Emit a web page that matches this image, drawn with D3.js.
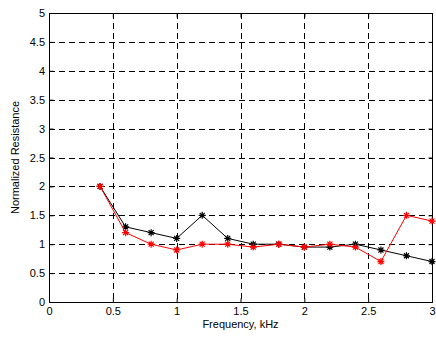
<!doctype html>
<html lang="en">
<head>
    <meta charset="UTF-8">
    <title>Normalized Resistance</title>
    <script src="https://d3js.org/d3.v7.min.js"></script>
    <style>
        body { margin: 0; background: white; }
        svg { display: block; }
        text { font-family: "Liberation Sans", Arial, sans-serif; font-size: 11px; fill: black; }
        .grid line { stroke: black; stroke-dasharray: 6 4; stroke-width: 1; }
    </style>
</head>
<body>
    <svg width="436" height="340"></svg>
    <script>
        const freq = [0.4, 0.6, 0.8, 1.0, 1.2, 1.4, 1.6, 1.8, 2.0, 2.2, 2.4, 2.6, 2.8, 3.0];
        const blackSeries = [2.0, 1.3, 1.2, 1.1, 1.5, 1.1, 1.0, 1.0, 0.95, 0.95, 1.0, 0.9, 0.8, 0.7];
        const redSeries = [2.0, 1.2, 1.0, 0.9, 1.0, 1.0, 0.95, 1.0, 0.95, 1.0, 0.95, 0.7, 1.5, 1.4];
        const xTicks = [0, 0.5, 1, 1.5, 2, 2.5, 3];
        const yTicks = [0, 0.5, 1, 1.5, 2, 2.5, 3, 3.5, 4, 4.5, 5];

        const svg = d3.select('svg');
        const plotL = 49, plotR = 432, plotT = 13, plotB = 302;

        const x = d3.scaleLinear().domain([0, 3]).range([plotL, plotR]);
        const y = d3.scaleLinear().domain([0, 5]).range([plotB, plotT]);

        // grid
        const grid = svg.append('g').attr('class', 'grid');
        grid.selectAll('.vx')
            .data(xTicks.slice(1, -1))
            .enter().append('line')
            .attr('x1', d => Math.round(x(d)) + 0.5).attr('x2', d => Math.round(x(d)) + 0.5)
            .attr('y1', plotT).attr('y2', plotB);
        grid.selectAll('.hy')
            .data(yTicks.slice(1, -1))
            .enter().append('line')
            .attr('x1', plotL).attr('x2', plotR)
            .attr('y1', d => Math.round(y(d)) + 0.5).attr('y2', d => Math.round(y(d)) + 0.5);

        // axes, ticks inside
        const fmt = d => d3.format('')(d);
        svg.append('g')
            .attr('transform', `translate(0, ${plotB + 0.5})`)
            .call(d3.axisBottom(x).tickValues(xTicks).tickSizeInner(-4).tickSizeOuter(0).tickPadding(5).tickFormat(fmt))
            .call(g => g.select('.domain').remove());
        svg.append('g')
            .attr('transform', `translate(${plotL + 0.5}, 0)`)
            .call(d3.axisLeft(y).tickValues(yTicks).tickSizeInner(-4).tickSizeOuter(0).tickPadding(4.5).tickFormat(fmt))
            .call(g => g.select('.domain').remove());
        svg.append('g')
            .attr('transform', `translate(0, ${plotT + 0.5})`)
            .call(d3.axisTop(x).tickValues(xTicks).tickSizeInner(-4).tickSizeOuter(0).tickFormat(''))
            .call(g => g.select('.domain').remove());
        svg.append('g')
            .attr('transform', `translate(${plotR + 0.5}, 0)`)
            .call(d3.axisRight(y).tickValues(yTicks).tickSizeInner(-4).tickSizeOuter(0).tickFormat(''))
            .call(g => g.select('.domain').remove());
        svg.selectAll('.tick text').style('font-family', '"Liberation Sans", Arial, sans-serif').style('font-size', '11px');

        svg.append('rect')
            .attr('x', plotL + 0.5).attr('y', plotT + 0.5)
            .attr('width', plotR - plotL).attr('height', plotB - plotT)
            .attr('fill', 'none').attr('stroke', 'black').attr('stroke-width', 1);

        const line = d3.line().x(d => x(d[0])).y(d => y(d[1]));
        const star = 'M-3.5,0H3.5M0,-3.5V3.5M-2.5,-2.5L2.5,2.5M-2.5,2.5L2.5,-2.5';

        function drawSeries(vals, color) {
            const pts = freq.map((f, i) => [f, vals[i]]);
            svg.append('path')
                .datum(pts)
                .attr('d', line)
                .attr('fill', 'none')
                .attr('stroke', color)
                .attr('stroke-width', 1);
            svg.append('g').selectAll('path')
                .data(pts)
                .enter().append('path')
                .attr('transform', d => `translate(${x(d[0])}, ${y(d[1])})`)
                .attr('d', star)
                .attr('stroke', color)
                .attr('stroke-width', 1.2)
                .attr('fill', 'none');
        }
        drawSeries(blackSeries, 'black');
        drawSeries(redSeries, 'red');

        svg.append('text')
            .attr('x', (plotL + plotR) / 2)
            .attr('y', 328)
            .attr('text-anchor', 'middle')
            .text('Frequency, kHz');
        svg.append('text')
            .attr('transform', `translate(19, ${(plotT + plotB) / 2}) rotate(-90)`)
            .attr('text-anchor', 'middle')
            .text('Normalized Resistance');
    </script>
</body>
</html>
